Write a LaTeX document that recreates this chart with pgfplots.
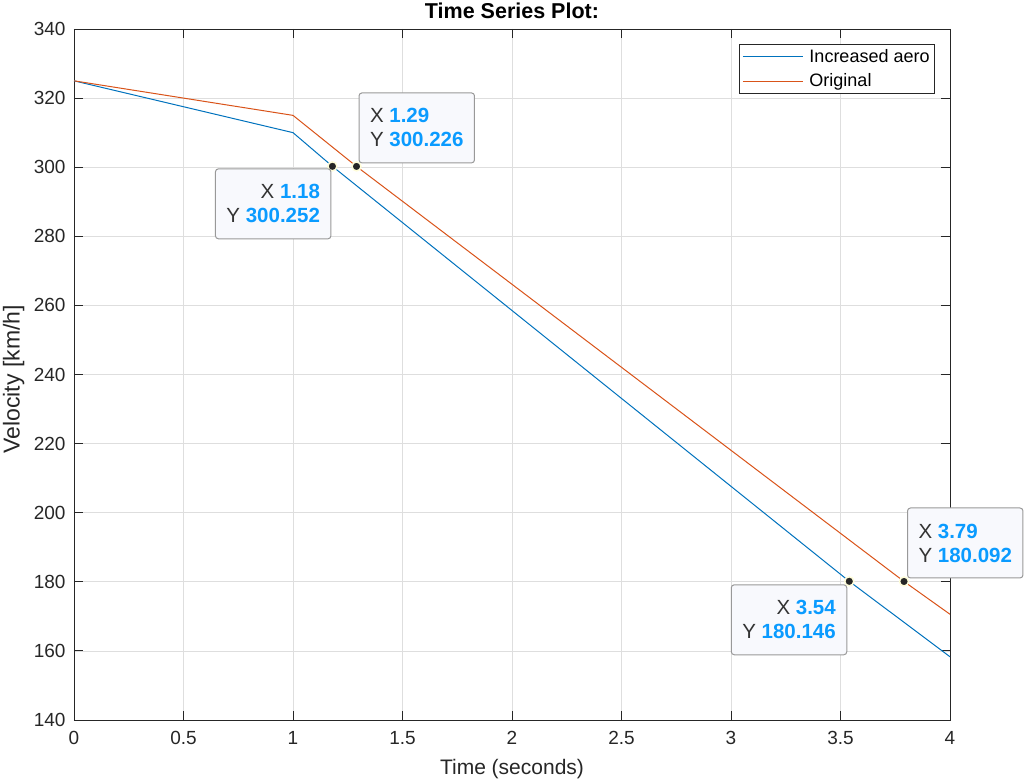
\documentclass[border=0pt]{standalone}
\usepackage{pgfplots}
\pgfplotsset{compat=1.18}
\usepackage{fontspec}
\setmainfont{Liberation Sans}
\definecolor{mblue}{rgb}{0,0.447,0.741}
\definecolor{morange}{rgb}{0.85,0.325,0.098}
\definecolor{tipblue}{HTML}{0A9BFF}
\definecolor{tipgray}{HTML}{333333}
\definecolor{tipfill}{HTML}{F8F9FD}
\definecolor{axgray}{rgb}{0.15,0.15,0.15}
\begin{document}
\begin{tikzpicture}
\begin{axis}[
  scale only axis, width=876bp, height=691bp,
  xmin=0, xmax=4, ymin=140, ymax=340,
  xtick={0,0.5,1,1.5,2,2.5,3,3.5,4},
  ytick={140,160,180,200,220,240,260,280,300,320,340},
  xticklabels={0,0.5,1,1.5,2,2.5,3,3.5,4},
  /pgf/number format/assume math mode=true,
  grid=major, major grid style={black!13, line width=0.8bp},
  axis line style={axgray, line width=0.9bp},
  tick style={axgray, line width=0.9bp},
  tick align=inside, major tick length=9bp,
  xtick pos=both, ytick pos=both,
  ticklabel style={font=\fontsize{19bp}{22bp}\selectfont, text=axgray},
  xticklabel style={yshift=-8bp},
  yticklabel style={xshift=-5bp},
  title={Time Series Plot:},
  title style={font=\bfseries\fontsize{21.5bp}{24bp}\selectfont, at={(axis description cs:0.5,1)}, anchor=base, yshift=4.5bp},
  xlabel={Time (seconds)},
  xlabel style={font=\fontsize{21bp}{24bp}\selectfont, text=axgray, at={(axis description cs:0.5,0)}, anchor=base, yshift=-54bp},
  ylabel={Velocity [km/h]},
  ylabel style={font=\fontsize{23bp}{26bp}\selectfont, text=axgray, at={(axis description cs:-0.069,0.493)}, anchor=center},
  legend style={at={(1,1)}, anchor=north east, xshift=-15bp, yshift=-15bp,
    draw=axgray, line width=0.9bp, fill=white,
    font=\fontsize{18bp}{21bp}\selectfont,
    inner xsep=3bp, inner ysep=3bp, row sep=6bp, column sep=4bp},
  legend cell align=left,
  legend image code/.code={\draw[#1, line width=1.3bp] (0bp,0bp) -- (60bp,0bp);},
]
\addplot[mblue, line width=1bp] coordinates {(0,325) (1,310) (1.18,300.252) (3.54,180.146) (4,158.3)};
\addlegendentry{Increased aero}
\addplot[morange, line width=1bp] coordinates {(0,325) (1,315) (1.29,300.226) (3.79,180.092) (4,170.6)};
\addlegendentry{Original}
\addplot[only marks, mark=*, mark size=4.5bp, mark options={fill=black!85, draw=yellow!15!white, line width=1.5bp}, forget plot]
  coordinates {(1.18,300.252) (1.29,300.226) (3.54,180.146) (3.79,180.092)};
\coordinate (p1) at (axis cs:1.18,300.252);
\coordinate (p2) at (axis cs:1.29,300.226);
\coordinate (p3) at (axis cs:3.54,180.146);
\coordinate (p4) at (axis cs:3.79,180.092);
\end{axis}
\tikzset{tip/.style={draw=black!40, line width=1bp, fill=tipfill, rounded corners=3bp,
   font=\fontsize{20.5bp}{24bp}\selectfont, inner xsep=11bp, minimum height=70bp}}
\node[tip, align=right, anchor=north east] at ([shift={(-1bp,-2bp)}]p1) {{\color{tipgray}X} {\color{tipblue}\bfseries 1.18}\\{\color{tipgray}Y} {\color{tipblue}\bfseries 300.252}};
\node[tip, align=left, anchor=south west] at ([shift={(2bp,3bp)}]p2) {{\color{tipgray}X} {\color{tipblue}\bfseries 1.29}\\{\color{tipgray}Y} {\color{tipblue}\bfseries 300.226}};
\node[tip, align=right, anchor=north east] at ([shift={(-2bp,-3bp)}]p3) {{\color{tipgray}X} {\color{tipblue}\bfseries 3.54}\\{\color{tipgray}Y} {\color{tipblue}\bfseries 180.146}};
\node[tip, align=left, anchor=south west] at ([shift={(3bp,3bp)}]p4) {{\color{tipgray}X} {\color{tipblue}\bfseries 3.79}\\{\color{tipgray}Y} {\color{tipblue}\bfseries 180.092}};
\pgfresetboundingbox
\useasboundingbox ([shift={(-74bp,-64bp)}]current axis.south west) rectangle ([shift={(74bp,29bp)}]current axis.north east);
\end{tikzpicture}
\end{document}
